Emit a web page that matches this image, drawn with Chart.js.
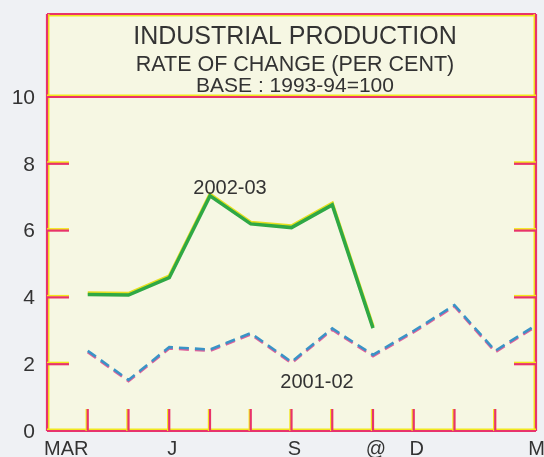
<!DOCTYPE html>
<html>
<head>
<meta charset="utf-8">
<script src="https://cdn.jsdelivr.net/npm/chart.js@4.4.1/dist/chart.umd.min.js"></script>
<style>
  html, body { margin: 0; padding: 0; background: #eff1f4; }
  #wrap { width: 544px; height: 457px; position: relative; }
</style>
</head>
<body>
<div id="wrap"><canvas id="c" width="544" height="457"></canvas></div>
<script>
// ---- data ----
const months = ['MAR','APR','MAY','JUN','JUL','AUG','SEP','OCT','NOV','DEC','JAN','FEB','MAR'];
const tickLabels = ['MAR','','','J','','','S','','@','D','','','M'];
const yTicks = [0, 2, 4, 6, 8, 10];
const series2002 = [null, 4.09, 4.07, 4.59, 7.04, 6.20, 6.09, 6.77, 3.08, null, null, null, null];
const series2001 = [null, 2.40, 1.53, 2.51, 2.44, 2.93, 2.07, 3.07, 2.28, 3.00, 3.77, 2.40, 3.17];
const titleLines = ['INDUSTRIAL PRODUCTION', 'RATE OF CHANGE (PER CENT)', 'BASE : 1993-94=100'];
const seriesNames = ['2002-03', '2001-02'];

const RED = '#e8336b', YEL = '#f2e81c', FILL = '#f6f7e3', TXT = '#333333';
const FONT = '"Liberation Sans", Arial, sans-serif';

function line(ctx, x1, y1, x2, y2, dx, dy) {
  ctx.strokeStyle = YEL; ctx.lineWidth = 1.8;
  ctx.beginPath(); ctx.moveTo(x1 + dx, y1 + dy); ctx.lineTo(x2 + dx, y2 + dy); ctx.stroke();
  ctx.strokeStyle = RED; ctx.lineWidth = 2.2;
  ctx.beginPath(); ctx.moveTo(x1, y1); ctx.lineTo(x2, y2); ctx.stroke();
}

const deco = {
  id: 'deco',
  beforeDraw(chart) {
    const { ctx, chartArea: a } = chart;
    ctx.save();
    ctx.fillStyle = '#eff1f4';
    ctx.fillRect(0, 0, chart.width, chart.height);
    ctx.fillStyle = FILL;
    ctx.fillRect(a.left, 14, a.right - a.left, a.bottom - 14);
    ctx.restore();
  },
  beforeDatasetDraw(chart, args) {
    const ctx = chart.ctx;
    ctx.save();
    if (args.index === 0) {
      ctx.shadowColor = '#e6e020'; ctx.shadowOffsetX = 0; ctx.shadowOffsetY = -1.5; ctx.shadowBlur = 0;
    } else {
      ctx.shadowColor = '#e0609a'; ctx.shadowOffsetX = 0; ctx.shadowOffsetY = 1.3; ctx.shadowBlur = 0;
    }
  },
  afterDatasetDraw(chart) { chart.ctx.restore(); },
  afterDraw(chart) {
    const { ctx, chartArea: a, scales: { x, y } } = chart;
    ctx.save();
    ctx.lineCap = 'butt';
    const top = 14;
    // frame
    line(ctx, a.left, top, a.right, top, 0, 1.6);
    line(ctx, a.left, top, a.left, a.bottom, 1.6, 0);
    line(ctx, a.right, top, a.right, a.bottom, -1.6, 0);
    line(ctx, a.left, a.bottom, a.right, a.bottom, 0, -1.6);
    // y ticks
    yTicks.forEach(v => {
      const py = y.getPixelForValue(v);
      if (v === 10) line(ctx, a.left, py, a.right, py, 0, -1.6);
      else if (v > 0) {
        line(ctx, a.left, py, a.left + 22, py, 0, -1.6);
        line(ctx, a.right - 22, py, a.right, py, 0, -1.6);
      }
    });
    // x ticks
    for (let i = 1; i < months.length - 1; i++) {
      const px = x.getPixelForValue(i);
      line(ctx, px, a.bottom, px, a.bottom - 22, -1.3, 0);
    }
    // y labels
    ctx.fillStyle = TXT;
    ctx.font = '21px ' + FONT;
    ctx.textAlign = 'right'; ctx.textBaseline = 'middle';
    yTicks.forEach(v => ctx.fillText(String(v), 35, y.getPixelForValue(v) + 1));
    // x labels
    ctx.font = '20px ' + FONT;
    ctx.textBaseline = 'alphabetic';
    tickLabels.forEach((t, i) => {
      if (!t) return;
      const px = x.getPixelForValue(i);
      if (i === 0) { ctx.textAlign = 'left'; ctx.fillText(t, px - 3, 455); }
      else if (i === tickLabels.length - 1) { ctx.textAlign = 'right'; ctx.fillText(t, 545, 455); }
      else { ctx.textAlign = 'center'; ctx.fillText(t, px + 3, 455); }
    });
    // title
    ctx.textAlign = 'center';
    const cx = 295;
    ctx.font = '25px ' + FONT; ctx.fillText(titleLines[0], cx, 44);
    ctx.font = '21.5px ' + FONT; ctx.fillText(titleLines[1], cx, 71);
    ctx.font = '21px ' + FONT; ctx.fillText(titleLines[2], cx, 92);
    // series labels
    ctx.font = '20px ' + FONT;
    ctx.fillText(seriesNames[0], 230, 194);
    ctx.fillText(seriesNames[1], 317, 388);
    ctx.restore();
  }
};

new Chart(document.getElementById('c'), {
  type: 'line',
  data: {
    labels: months,
    datasets: [
      { label: seriesNames[0], data: series2002, borderColor: '#2fa845', borderWidth: 3.5,
        pointRadius: 0, tension: 0, spanGaps: false, fill: false, borderJoinStyle: 'miter' },
      { label: seriesNames[1], data: series2001, borderColor: '#3a93c6', borderWidth: 2.6,
        borderDash: [10, 6], pointRadius: 0, tension: 0, fill: false, borderJoinStyle: 'miter' }
    ]
  },
  options: {
    responsive: false,
    animation: false,
    devicePixelRatio: 1,
    layout: { padding: { left: 47, right: 8, top: 97, bottom: 26 } },
    plugins: { legend: { display: false }, tooltip: { enabled: false }, title: { display: false } },
    scales: {
      x: { type: 'category', display: false, offset: false },
      y: { display: false, min: 0, max: 10 }
    }
  },
  plugins: [deco]
});
</script>
</body>
</html>
